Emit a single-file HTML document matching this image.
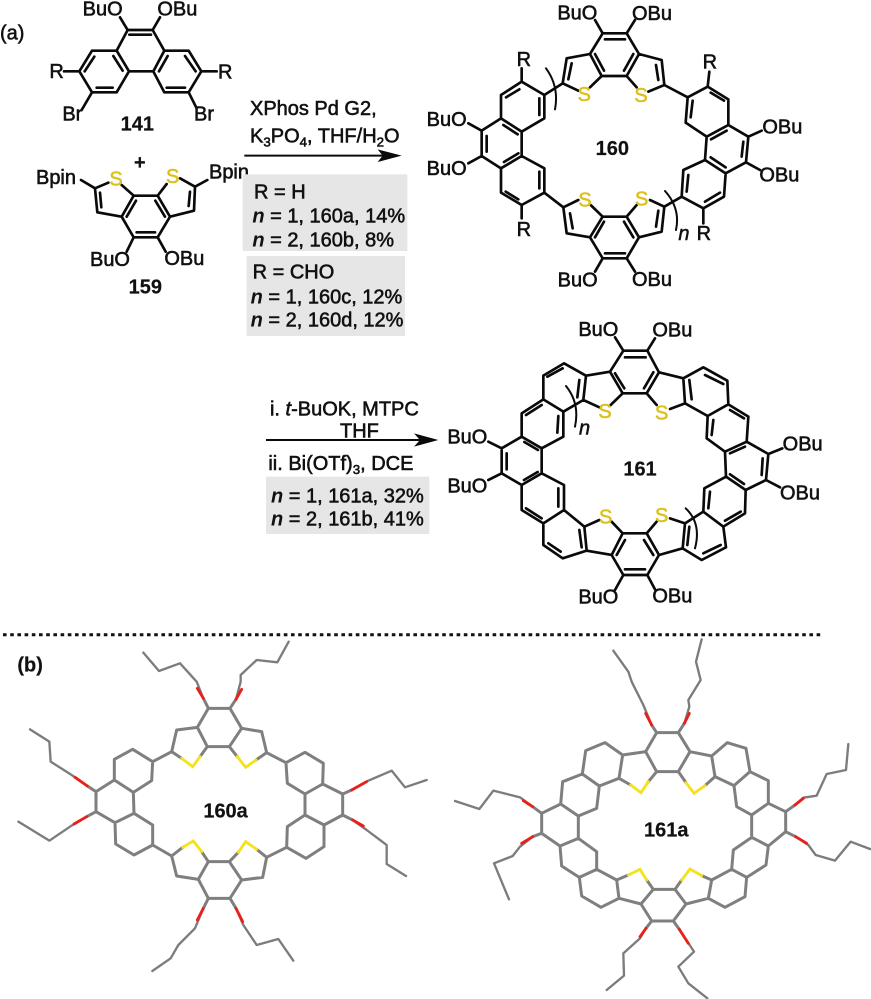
<!DOCTYPE html>
<html><head><meta charset="utf-8">
<style>
html,body{margin:0;padding:0;background:#fff;width:871px;height:999px;overflow:hidden}
svg{display:block}
text{font-family:"Liberation Sans",sans-serif;font-size:60px;fill:#111;stroke:#111;stroke-width:1.7px}
.b{font-weight:bold;stroke-width:.6px}
.s{fill:#dcc01c;stroke:#dcc01c;text-anchor:middle}
.n{font-style:italic;font-weight:bold;stroke-width:0}
.k{fill:none;stroke:#0a0a0a;stroke-width:8;stroke-linecap:round;stroke-linejoin:round}
.t{fill:none;stroke:#0a0a0a;stroke-width:6;stroke-linecap:round}
.g{fill:none;stroke:#7f7f7f;stroke-width:9;stroke-linecap:round;stroke-linejoin:round}
.c{fill:none;stroke:#7c7c7c;stroke-width:7;stroke-linecap:round;stroke-linejoin:round}
.r{fill:none;stroke:#e8201a;stroke-width:8.5;stroke-linecap:round}
.y{fill:none;stroke:#f4e21c;stroke-width:8.5;stroke-linecap:round}
</style></head><body>
<svg xmlns="http://www.w3.org/2000/svg" width="871" height="999" viewBox="0 0 871 999">
<rect width="871" height="999" fill="#fff"/>

<!-- Part a left: 141, 159, conditions -->
<g transform="scale(.33333)">
<text x="0" y="118">(a)</text>
<path class="k" d="M383 90L458 90M388 104L453 104M383 90L360 52M458 90L480 52M383 90L350 152M458 90L493 152M387 214L460 214
M350 152L276 152L238 214L276 277L350 277L387 214L350 152M493 152L566 152L604 214L566 277L493 277L460 214L493 152
M192 214L238 214M604 214L650 214M276 277L245 330M566 277L590 325"/>
<path class="k" d="M283 170L254 214M290 263L338 263M340 168L368 212M477 214L503 168M555 168L587 214M500 263L555 263"/>
<text x="248" y="46">BuO</text><text x="472" y="46">OBu</text>
<text x="148" y="234">R</text><text x="654" y="236">R</text>
<text x="187" y="362">Br</text><text x="582" y="362">Br</text>
<text class="b" x="362" y="392">141</text>
<text class="b" x="402" y="507">+</text>
<path class="k" d="M401 587L473 587L510 650L473 712L401 712L365 650L401 587M408 602L380 650M466 602L495 650M410 697L465 697
M365 650L292 637L285 565L325 548M285 565L243 540M304 622L300 578M401 587L365 555M473 587L500 552
M510 650L582 632L585 560L540 535M585 560L622 540M566 618L570 575M401 712L380 755M473 712L497 755"/>
<text class="s" x="348" y="556">S</text><text class="s" x="518" y="549">S</text>
<text x="108" y="552">Bpin</text><text x="627" y="535">Bpin</text>
<text x="270" y="798">BuO</text><text x="493" y="795">OBu</text>
<text class="b" x="386" y="880">159</text>
<rect x="728" y="523" width="494" height="230" fill="#e6e6e6"/>
<rect x="740" y="768" width="475" height="240" fill="#e6e6e6"/>
<text x="750" y="345">XPhos Pd G2,</text>
<text x="750" y="428">K<tspan dy="12" font-size="40">3</tspan><tspan dy="-12">PO</tspan><tspan dy="12" font-size="40">4</tspan><tspan dy="-12">, THF/H</tspan><tspan dy="12" font-size="40">2</tspan><tspan dy="-12">O</tspan></text>
<path d="M733 467L1170 467" stroke="#0a0a0a" stroke-width="6"/>
<path d="M1205 467L1133 448L1148 467L1133 486Z" fill="#0a0a0a"/>
<text x="762" y="595">R = H</text>
<text x="757" y="668"><tspan class="n">n</tspan> = 1, 160a, 14%</text>
<text x="757" y="740"><tspan class="n">n</tspan> = 2, 160b, 8%</text>
<text x="758" y="836">R = CHO</text>
<text x="752" y="910"><tspan class="n">n</tspan> = 1, 160c, 12%</text>
<text x="752" y="980"><tspan class="n">n</tspan> = 2, 160d, 12%</text>
</g>

<!-- 160 -->
<g transform="translate(420,0) scale(.33333)">
<path class="k" d="M548 100L620 100L657 162L620 228L545 228L510 162L548 100M555 118L615 118M525 162L552 212M640 162L612 212
M510 162L440 175L428 250L475 272M545 228L510 262M455 190L445 238M657 162L725 180L733 255L685 275M620 228L650 262M708 195L715 240
M548 100L525 60M620 100L645 60M428 250L373 285M733 255L803 292
M373 285L305 245L243 285L243 355L305 395L373 355L373 285M298 268L258 292M358 295L358 345
M243 355L185 392L185 468L243 505M305 395L305 468M200 408L200 455M250 375L293 403M252 486L295 460
M305 468L373 505L373 578L305 615L243 578L243 505L305 468M358 515L358 565M295 598L257 575
M305 245L305 205M305 615L305 655M185 392L145 370M185 468L145 490M373 578L430 622
M548 650L620 650L657 712L620 775L548 775L510 712L548 650M555 760L615 760M525 712L552 665M640 712L612 665
M510 712L440 700L430 622L475 600M548 650L512 615M458 685L450 640M657 712L725 695L733 620L690 600M620 650L650 615M708 680L715 632
M548 775L525 815M620 775L645 815M733 620L785 590
M803 292L863 260L925 298L925 375L860 410L797 368L803 292M872 278L912 302M818 302L812 352
M925 375L985 410L978 487L917 520L855 480M860 410L855 480M970 425L965 470M873 418L920 392M872 472L917 502
M855 480L790 510L785 590L850 625L912 590L917 520M805 525L800 575M855 605L900 578
M863 260L868 215M850 625L850 670M985 410L1025 392M978 487L1020 510"/>
<path class="t" d="M378 205Q418 260 405 328M735 573Q782 625 768 690"/>
<text class="s" x="493" y="303">S</text><text class="s" x="663" y="306">S</text>
<text class="s" x="495" y="619">S</text><text class="s" x="665" y="616">S</text>
<text x="412" y="58">BuO</text><text x="636" y="60">OBu</text>
<text x="20" y="378">BuO</text><text x="20" y="525">BuO</text>
<text x="1027" y="400">OBu</text><text x="1018" y="545">OBu</text>
<text x="413" y="860">BuO</text><text x="636" y="858">OBu</text>
<text x="290" y="198">R</text><text x="290" y="708">R</text><text x="848" y="205">R</text><text x="830" y="720">R</text>
<text class="n" x="775" y="720" style="font-weight:normal;stroke-width:1.5px">n</text>
<text class="b" x="527" y="465">160</text>
</g>

<!-- arrow 2 -->
<g transform="translate(250,385) scale(.33333)">
<rect x="48" y="275" width="490" height="172" fill="#e6e6e6"/>
<text x="60" y="92">i. <tspan font-style="italic">t</tspan>-BuOK, MTPC</text>
<text x="270" y="158">THF</text>
<text x="55" y="255">ii. Bi(OTf)<tspan dy="12" font-size="40">3</tspan><tspan dy="-12">, DCE</tspan></text>
<path d="M48 165L510 165" stroke="#0a0a0a" stroke-width="6"/>
<path d="M565 165L492 145L510 165L492 185Z" fill="#0a0a0a"/>
<text x="63" y="352"><tspan class="n">n</tspan> = 1, 161a, 32%</text>
<text x="63" y="422"><tspan class="n">n</tspan> = 2, 161b, 41%</text>
</g>

<!-- 161 -->
<g transform="translate(440,310) scale(.33333)">
<path class="k" d="M550 122L622 122L657 187L620 250L548 250L510 185L550 122M555 142L617 142M525 190L553 235M640 187L612 235
M510 185L438 197L430 270L478 292M548 250L512 285M657 187L730 205L735 280L690 297M620 250L650 285M418 210L412 262M748 210L755 268
M438 197L372 160L310 197L310 268L370 305L430 270M368 175L322 200
M310 268L245 310L245 380L305 415L370 380L370 305M305 285L258 315M355 318L352 368
M245 380L185 415L185 490L245 525L305 490L305 415M200 430L200 478M253 396L294 420M252 510L293 486
M305 490L372 525L372 600L310 640L245 600L245 525M355 535L355 590M305 625L258 595
M372 600L433 650L440 722L368 745L310 705L310 640M418 660L425 712M362 725L325 700
M548 670L620 670L657 735L622 795L550 795L515 735L548 670M555 778L615 778M530 735L555 690M640 735L612 690
M515 735L440 722M433 650L478 630M548 670L515 635M657 735L728 715M735 640L690 625M620 670L650 635
M728 715L735 640L790 605L850 650L858 712L785 750L728 715M748 650L742 705M790 730L842 705
M790 605L793 535L858 500L917 540L915 610L850 650M810 545L805 595M855 632L902 605
M858 500L855 425L920 395L985 432L978 510L917 540M968 445L965 495M870 430L915 410M870 493L912 522
M855 425L800 385L803 318L865 283L925 320L920 395M820 330L815 375M870 300L912 325
M735 280L803 318M730 205L790 172L862 212L865 283M795 195L850 222
M550 122L525 82M622 122L645 85M185 415L145 395M185 490L145 510M985 432L1027 415M978 510L1020 532M550 795L525 840M622 795L645 838"/>
<path class="t" d="M378 228Q420 280 405 350M737 595Q785 640 765 715"/>
<text class="s" x="495" y="324">S</text><text class="s" x="665" y="329">S</text>
<text class="s" x="497" y="641">S</text><text class="s" x="665" y="636">S</text>
<text x="415" y="78">BuO</text><text x="637" y="80">OBu</text>
<text x="22" y="400">BuO</text><text x="22" y="547">BuO</text>
<text x="1028" y="422">OBu</text><text x="1020" y="568">OBu</text>
<text x="415" y="880">BuO</text><text x="637" y="878">OBu</text>
<text class="n" x="417" y="373" style="font-weight:normal;stroke-width:1.5px">n</text>
<text class="b" x="550" y="497">161</text>
</g>

<!-- divider -->
<path d="M3 634.7L823 634.7" stroke="#111" stroke-width="3" stroke-dasharray="3.6 3.6"/>

<!-- 160a -->
<g transform="translate(0,640) scale(.33333)">
<text class="b" x="52" y="95">(b)</text>
<path class="c" d="M610 175L590 125L540 70L477 93L430 38M708 178L722 125L722 105L770 60L832 67L866 5
M262 438L215 405L152 365L148 305L90 268M260 530L210 560L148 602L55 545
M1055 450L1105 422L1175 392L1215 442L1280 420M1058 540L1100 570L1160 615L1160 672L1218 708
M610 805L585 865L535 915L512 955L457 993M708 805L730 855L770 915L835 897L880 962"/>
<path class="g" d="M625 205L690 205L725 265L688 320L622 320L592 262L625 205M592 262L530 270L515 335L545 355M600 350L622 320M725 265L785 275L800 338L768 360M712 350L688 320
M515 335L458 365M800 338L858 368M458 365L398 328L343 358L343 420L400 457L455 422L458 365M343 420L288 455L288 515L345 548L402 520L400 457M402 520L458 555L458 615L402 645L347 612L345 548M458 615L515 648
M515 648L530 708L595 718L625 775L690 775L725 720L688 665L625 665L595 718M515 648L548 622M605 635L625 665M725 720L788 712L800 652L770 628M715 637L688 665M800 652L860 622
M858 368L915 337L970 370L968 432L915 462L862 430L858 368M968 432L1028 462L1028 525L972 555L915 525L915 462M915 525L862 560L860 622L918 655L972 620L972 555
M625 205L610 175M690 205L708 178M288 455L262 438M288 515L260 530M1028 462L1055 450M1028 525L1058 540M625 775L610 805M690 775L708 805"/>
<path class="y" d="M545 355L578 380L600 350M712 350L737 382L768 360M548 622L580 603L605 635M715 637L737 605L770 628"/>
<path class="r" d="M610 175L592 145M708 178L725 148M262 438L225 412M260 530L222 552M1055 450L1100 425M1058 540L1090 558M610 805L592 840M708 805L728 845"/>
<text class="b" x="610" y="533">160a</text>
</g>

<!-- 161a -->
<g transform="translate(440,630) scale(.33333)">
<path class="c" d="M635 285L610 225L575 155L565 125L520 62M733 280L748 230L745 210L782 150L768 95L785 28
M278 530L240 502L160 482L118 537L45 513M278 620L240 650L218 678L162 700L207 808
M1065 525L1090 503L1130 497L1160 432L1218 420L1225 342M1067 620L1105 645L1127 675L1185 692L1232 635L1290 657
M618 895L600 925L550 970L552 1037L500 1080M718 898L762 965L715 1010L745 1060L802 1105"/>
<path class="g" d="M650 308L715 308L750 365L715 425L650 425L617 365L650 308M617 365L548 375L537 445L572 465M625 455L650 425M750 365L815 378L825 440L795 467M738 458L715 425
M548 375L495 338L437 362L427 432L478 468L537 445M427 432L368 455L362 522L415 558L470 535L478 468M362 522L305 550L305 610L360 648L415 625L415 558M415 625L470 665L470 718L418 742L365 708L360 648
M470 718L530 750L537 805L483 832L425 798L418 742M640 778L705 778L738 822L700 873L635 873L603 822L640 778M537 805L603 822M530 750L565 735M620 750L640 778M738 822L805 805L815 750L785 737M725 750L705 778
M815 750L875 718L920 742L915 800L855 832L805 805M875 718L880 660L935 622L985 648L978 705L920 742M935 622L935 555L985 520L1037 545L1037 605L985 648M935 555L890 530L882 467L930 425L985 452L985 520
M882 467L825 440M815 378L862 338L918 355L930 425
M650 308L635 285M715 308L733 280M305 550L278 530M305 610L278 620M1037 545L1065 525M1037 605L1067 620M635 873L618 895M700 873L718 898"/>
<path class="y" d="M572 465L603 488L625 455M738 458L762 490L795 467M565 735L600 718L620 750M725 750L750 717L785 737"/>
<path class="r" d="M635 285L617 250M733 280L748 250M278 530L250 512M278 620L245 640M1065 525L1090 505M1067 620L1100 640M618 895L600 920M718 898L745 940"/>
<text class="b" x="612" y="620">161a</text>
</g>
</svg>
</body></html>
